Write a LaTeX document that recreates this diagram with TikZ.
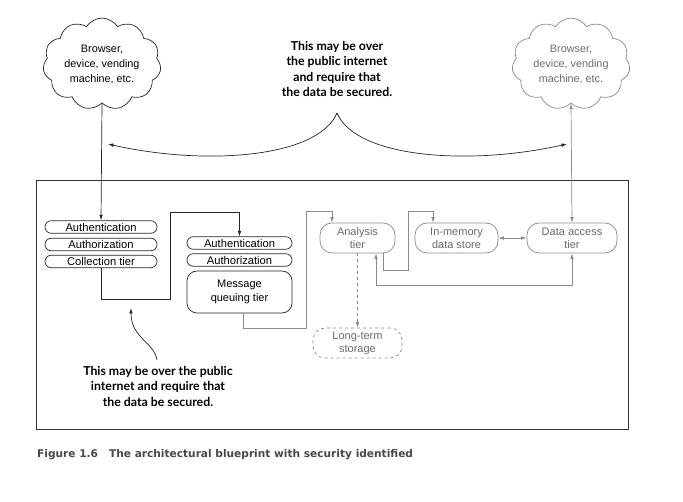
\documentclass[tikz,border=0pt]{standalone}
\usepackage{fontspec}
\setmainfont{Liberation Sans}
\newfontfamily\notefont{Lato}
\newfontfamily\capfont{DejaVu Sans}
\usetikzlibrary{shapes.symbols,arrows.meta}
\definecolor{lgray}{HTML}{8A8A8A}
\definecolor{tgray}{HTML}{6A6A6A}
\begin{document}
\begin{tikzpicture}[x=1pt,y=-1pt,
  tip/.style={-{Latex[length=5.5pt,width=3.6pt]}},
  dtip/.style={{Latex[length=5.5pt,width=3.6pt]}-{Latex[length=5.5pt,width=3.6pt]}},
  ln/.style={line width=0.7pt, draw=black!85},
  gln/.style={line width=0.7pt, draw=lgray},
  cloudbox/.style={cloud, cloud puffs=11, cloud puff arc=115, aspect=1.35,
     minimum width=118pt, minimum height=88pt, inner sep=0pt, line width=0.7pt,
     align=center, font=\fontsize{10.8}{15}\selectfont},
  pill/.style={rectangle, rounded corners=6.2pt, minimum height=12.5pt,
     inner sep=0pt, line width=0.7pt, draw=black!85,
     font=\fontsize{11.2}{12}\selectfont},
  tier/.style={rectangle, rounded corners=12pt, minimum height=30pt,
     inner sep=0pt, line width=0.7pt, draw=lgray, text=tgray, align=center,
     font=\fontsize{11}{13}\selectfont},
  note/.style={align=center, font=\notefont\bfseries\fontsize{12.3}{15.5}\selectfont}
]
\useasboundingbox (0,0) rectangle (683,502);

% outer frame
\node[draw=black!80, line width=0.8pt, minimum width=592pt, minimum height=249pt,
  inner sep=0pt] (frame) at (332.5,304.5) {};

% clouds
\node[cloudbox, draw=black!85] (cloudL) at (102,64) {Browser,\\device, vending\\machine, etc.};
\node[cloudbox, draw=lgray, text=tgray] (cloudR) at (571,64) {Browser,\\device, vending\\machine, etc.};

% top note
\node[note] (topnote) at (337,69) {This may be over\\the public internet\\and require that\\the data be secured.};
\coordinate (cusp) at (337,113);
\coordinate (tipL) at (108,144);
\coordinate (tipR) at (567,144);
\draw[ln, tip] (cusp) .. controls (318,158) and (205,166) .. (tipL);
\draw[ln, tip] (cusp) .. controls (356,158) and (469,166) .. (tipR);

% left stack
\node[pill, minimum width=112pt] (auth1) at (101,227) {Authentication};
\node[pill, minimum width=112pt] (autz1) at (101,244.5) {Authorization};
\node[pill, minimum width=112pt] (coll) at (101,261.5) {Collection tier};

% middle stack
\node[pill, minimum width=105pt] (auth2) at (239.5,243) {Authentication};
\node[pill, minimum width=105pt] (autz2) at (239.5,260) {Authorization};
\node[rectangle, rounded corners=10pt, minimum width=105pt, minimum height=42pt,
  inner sep=0pt, line width=0.7pt, draw=black!85, align=center,
  font=\fontsize{11}{14}\selectfont] (msg) at (239.5,292) {Message\\queuing tier};

% right tiers
\node[tier, minimum width=75pt] (ana) at (357.5,238) {Analysis\\tier};
\node[tier, minimum width=83pt] (mem) at (456.5,238) {In-memory\\data store};
\node[tier, minimum width=90pt] (dat) at (572,238) {Data access\\tier};
\node[tier, minimum width=89pt, dashed] (lts) at (357.5,343) {Long-term\\storage};

% connectors
\draw[ln, tip] (cloudL.south) -- (auth1.north);
\draw[gln, dtip] (cloudR.south) -- (dat.north);

\coordinate (k1) at (170,299);
\coordinate (k2) at (170,212);
\draw[ln, tip] (coll.south) |- (k1) -- (k2) -| (auth2.north);

\coordinate (m1) at (243,328);
\coordinate (m2) at (306,328);
\coordinate (m3) at (306,211);
\coordinate (m4) at (332,211);
\draw[gln] ([xshift=3.5pt]msg.south) -- (m1) -- (m2) -- (m3) -- (m4);
\draw[gln, tip] (m4) -- (m4 |- ana.north);

\coordinate (a1) at (383,270);
\coordinate (a2) at (408,270);
\coordinate (a3) at (408,211);
\coordinate (a4) at (433,211);
\draw[gln] (a1 |- ana.south) -- (a1) -- (a2) -- (a3) -- (a4);
\draw[gln, tip] (a4) -- (a4 |- mem.north);

\draw[gln, dtip] (mem.east) -- (dat.west);

\coordinate (d1) at (572,285);
\coordinate (d2) at (376,285);
\draw[gln, dtip] (dat.south) -- (d1) -- (d2) -- (d2 |- ana.south);

\draw[gln, dashed, tip] (ana.south) -- (lts.north);

% bottom note
\node[note] (botnote) at (158,386) {This may be over the public\\internet and require that\\the data be secured.};
\coordinate (btip) at (131,308);
\draw[ln, tip] (157,360) .. controls (154,342) and (131,338) .. (btip);

% caption
\node[anchor=west, inner sep=0pt, text=black!72,
  font=\capfont\bfseries\fontsize{10.6}{12}\selectfont] (cap) at (37,455)
  {Figure 1.6\hspace{11pt}The architectural blueprint with security identified};
\end{tikzpicture}
\end{document}
